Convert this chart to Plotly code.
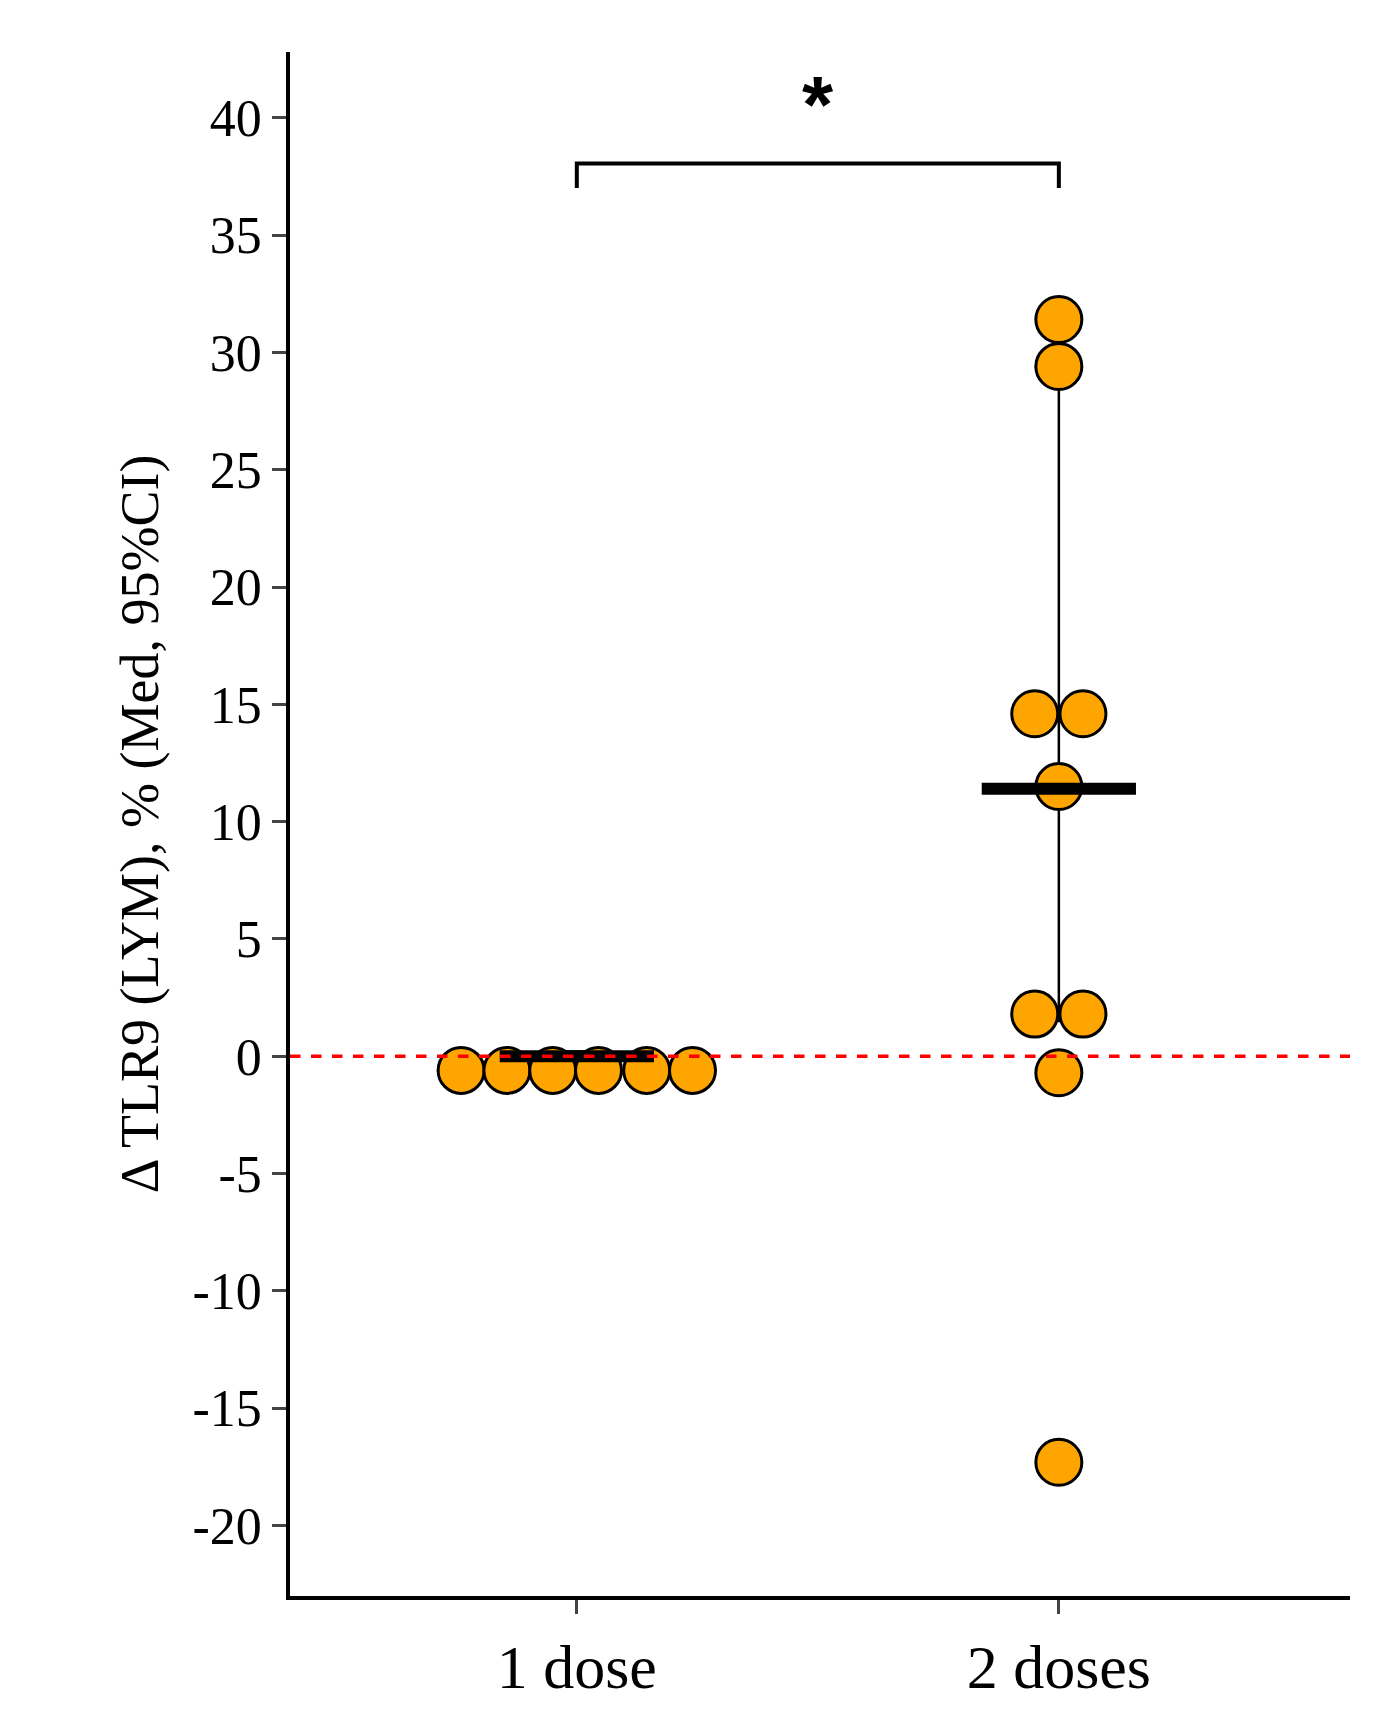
import plotly.graph_objects as go

groups = ["1 dose", "2 doses"]
x1 = [-0.24, -0.145, -0.05, 0.045, 0.145, 0.24]
y1 = [-0.6, -0.6, -0.6, -0.6, -0.6, -0.6]
x2 = [1.0, 1.0, 0.95, 1.05, 1.0, 0.95, 1.05, 1.0, 1.0]
y2 = [31.4, 29.4, 14.6, 14.6, 11.5, 1.8, 1.8, -0.7, -17.3]
medians = [0.0, 11.4]
ci_low = [-0.2, 1.5]
ci_high = [0.2, 29.4]
yticks = list(range(-20, 41, 5))

fig = go.Figure()
for i in range(2):
    fig.add_trace(go.Scatter(x=[i, i], y=[ci_low[i], ci_high[i]], mode="lines",
                             line=dict(color="black", width=2.5), showlegend=False))
    fig.add_trace(go.Scatter(x=[i-0.05, i+0.05, None, i-0.05, i+0.05],
                             y=[ci_low[i], ci_low[i], None, ci_high[i], ci_high[i]],
                             mode="lines", line=dict(color="black", width=2.5), showlegend=False))
mk = dict(size=46, color="#FFA500", line=dict(color="black", width=3))
fig.add_trace(go.Scatter(x=x1, y=y1, mode="markers", marker=mk, showlegend=False))
fig.add_trace(go.Scatter(x=x2, y=y2, mode="markers", marker=mk, showlegend=False))
for i in range(2):
    fig.add_trace(go.Scatter(x=[i-0.16, i+0.16], y=[medians[i], medians[i]], mode="lines",
                             line=dict(color="black", width=12), showlegend=False))
fig.add_shape(type="line", xref="paper", x0=0, x1=1, y0=0, y1=0,
              line=dict(color="red", width=3.5, dash="dash"))
fig.add_trace(go.Scatter(x=[0, 0, 1, 1], y=[37.0, 38.05, 38.05, 37.0], mode="lines",
                         line=dict(color="black", width=4), showlegend=False))
fig.add_annotation(x=0.5, y=38.6, text="<b>*</b>", showarrow=False, yanchor="bottom",
                   font=dict(size=80, color="black", family="Liberation Sans"))

fig.update_layout(
    width=1397, height=1713, plot_bgcolor="white", paper_bgcolor="white",
    margin=dict(l=282, r=55, t=44, b=125),
    font=dict(family="Liberation Serif", color="black", size=50),
    xaxis=dict(range=[-0.595, 1.604], tickvals=[0, 1], ticktext=groups, showline=True,
               linecolor="black", linewidth=3.5, ticks="outside", ticklen=14, tickwidth=2.5,
               showgrid=False, zeroline=False, tickfont=dict(size=62)),
    yaxis=dict(range=[-23.0, 42.8], tickvals=yticks, ticktext=[str(v).replace("−", "-") for v in yticks],
               showline=True, linecolor="black", linewidth=3.5, ticks="outside", ticklen=14, tickwidth=2.5,
               showgrid=False, zeroline=False, tickfont=dict(size=52),
               title=dict(text="Δ TLR9 (LYM), % (Med, 95%CI)", font=dict(size=54), standoff=18)),
)
fig.write_html("out.html")
